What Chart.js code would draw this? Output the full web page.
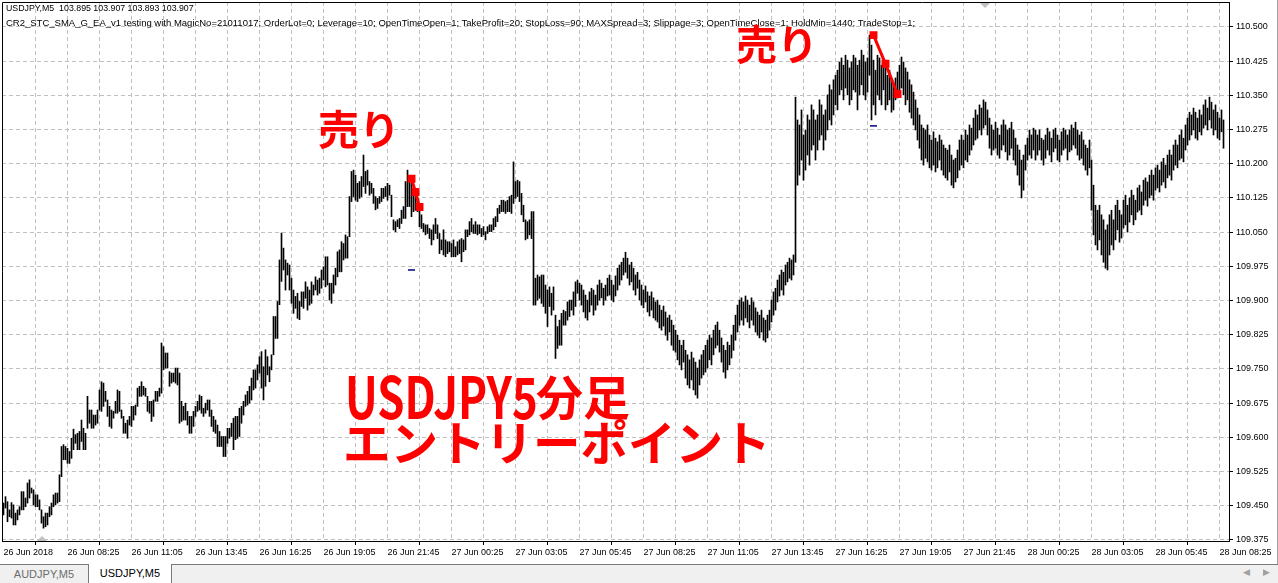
<!DOCTYPE html>
<html><head><meta charset="utf-8">
<script src="https://cdn.jsdelivr.net/npm/chart.js@4.4.1/dist/chart.umd.min.js"></script>
<style>
html,body{margin:0;padding:0;background:#fff;}
#wrap{position:relative;width:1278px;height:583px;overflow:hidden;font-family:"Liberation Sans",Arial,sans-serif;}
#c{position:absolute;left:0;top:0;}
.hdr{position:absolute;left:6px;line-height:11px;color:#000;white-space:pre;}
.red{position:absolute;color:#ff0000;font-family:"Noto Sans CJK JP",sans-serif;font-weight:bold;white-space:pre;line-height:1;}
#lat{transform:scale(0.95,1.25);transform-origin:0 43px;}
#tabs{position:absolute;left:0;top:564px;width:1278px;height:19px;background:#f0f0f0;border-top:1px solid #7a7a7a;}
.tab{position:absolute;top:-1px;height:19px;font-size:11px;line-height:18px;text-align:center;box-sizing:border-box;}
#t1{left:0;width:88px;color:#6d6d6d;border-top:1px solid #7a7a7a;}
#t2{left:88px;width:84px;background:#fff;color:#000;border-left:1px solid #7a7a7a;border-right:1px solid #7a7a7a;}
#rb{position:absolute;right:0;top:0;width:1px;height:564px;background:#a0a0a0;}
.arr{position:absolute;top:567px;font-size:9px;color:#a0a0a0;}
</style></head>
<body><div id="wrap">
<canvas id="c" width="1278" height="562"></canvas>
<div class="hdr" style="top:3px;font-size:8.8px">USDJPY,M5  103.895 103.907 103.893 103.907</div>
<div class="hdr" style="top:17px;font-size:9.5px">CR2_STC_SMA_G_EA_v1 testing with MagicNo=21011017; OrderLot=0; Leverage=10; OpenTimeOpen=1; TakeProfit=20; StopLoss=90; MAXSpread=3; Slippage=3; OpenTimeClose=1; HoldMin=1440; TradeStop=1;</div>
<div class="red" style="left:318px;top:107px;font-size:41px">売り</div>
<div class="red" style="left:736px;top:22px;font-size:41px">売り</div>
<div class="red" id="lat" style="left:345px;top:376px;font-size:46px">USDJPY5</div>
<div class="red" style="left:536px;top:371px;font-size:47px">分足</div>
<div class="red" style="left:343px;top:417px;font-size:47.5px">エントリーポイント</div>
<div id="rb"></div>
<div id="tabs"><div class="tab" id="t1">AUDJPY,M5</div><div class="tab" id="t2">USDJPY,M5</div></div>
<div class="arr" style="left:1243px">&#9664;</div><div class="arr" style="left:1263px">&#9654;</div>
</div>
<script>
const timeLabels = ["26 Jun 2018","26 Jun 08:25","26 Jun 11:05","26 Jun 13:45","26 Jun 16:25","26 Jun 19:05","26 Jun 21:45","27 Jun 00:25","27 Jun 03:05","27 Jun 05:45","27 Jun 08:25","27 Jun 11:05","27 Jun 13:45","27 Jun 16:25","27 Jun 19:05","27 Jun 21:45","28 Jun 00:25","28 Jun 03:05","28 Jun 05:45","28 Jun 08:25"];
const priceTicks = [109.375,109.450,109.525,109.600,109.675,109.750,109.825,109.900,109.975,110.050,110.125,110.200,110.275,110.350,110.425,110.500];
const barLow = [
109.430,109.445,109.415,109.426,109.423,109.408,109.408,109.419,109.430,109.441,
109.441,109.448,109.456,109.467,109.478,109.452,109.448,109.448,109.441,109.412,
109.401,109.404,109.408,109.426,109.430,109.448,109.452,109.456,109.459,109.514,
109.551,109.551,109.543,109.543,109.554,109.573,109.587,109.573,109.573,109.591,
109.573,109.573,109.620,109.631,109.620,109.620,109.627,109.631,109.660,109.657,
109.668,109.679,109.646,109.624,109.620,109.642,109.653,109.653,109.657,109.642,
109.609,109.609,109.598,109.627,109.624,109.638,109.649,109.668,109.690,109.690,
109.693,109.690,109.657,109.653,109.635,109.646,109.679,109.679,109.690,109.697,
109.748,109.752,109.752,109.712,109.719,109.722,109.719,109.715,109.631,109.635,
109.638,109.638,109.627,109.609,109.609,109.624,109.646,109.657,109.660,109.653,
109.646,109.653,109.660,109.646,109.624,109.613,109.609,109.580,109.580,109.580,
109.558,109.558,109.587,109.598,109.602,109.573,109.595,109.598,109.602,109.631,
109.649,109.668,109.671,109.675,109.682,109.704,109.708,109.726,109.741,109.708,
109.682,109.712,109.737,109.722,109.748,109.781,109.817,109.817,109.891,109.942,
109.967,109.923,109.956,109.923,109.894,109.872,109.883,109.861,109.858,
109.887,109.883,109.905,109.879,109.890,109.894,109.912,109.923,109.912,109.916,
109.927,109.945,109.930,109.934,109.901,109.894,109.916,109.934,109.952,109.963,
109.963,109.989,109.993,109.993,110.040,110.117,110.128,110.120,110.117,110.124,
110.128,110.150,110.135,110.153,110.131,110.135,110.113,110.099,110.102,110.113,
110.117,110.124,110.128,110.120,110.131,110.084,110.055,110.051,110.062,110.058,
110.069,110.080,110.080,110.106,110.106,110.084,110.095,110.098,110.095,110.062,
110.058,110.051,110.044,110.047,110.036,110.022,110.033,110.047,110.036,110.003,
110.011,110.000,109.996,110.003,110.007,109.996,109.996,109.996,110.000,110.003,
109.985,110.007,110.011,110.040,110.044,110.051,110.047,110.047,110.044,110.047,
110.040,110.044,110.033,110.047,110.051,110.051,110.055,110.062,110.073,110.091,
110.095,110.095,110.091,110.095,110.095,110.091,110.113,110.124,110.128,110.117,
110.088,110.073,110.033,110.036,110.044,110.036,109.890,109.890,109.901,109.905,
109.894,109.887,109.872,109.843,109.887,109.868,109.879,109.773,109.795,109.802,
109.802,109.846,109.846,109.857,109.865,109.879,109.868,109.887,109.916,
109.901,109.890,109.875,109.862,109.857,109.875,109.890,109.868,109.879,109.890,
109.901,109.906,109.890,109.901,109.910,109.912,109.901,109.897,109.910,109.923,
109.934,109.945,109.956,109.962,109.949,109.934,109.941,109.923,109.912,109.927,
109.901,109.890,109.884,109.897,109.875,109.866,109.879,109.862,109.857,109.853,
109.840,109.835,109.844,109.824,109.813,109.831,109.802,109.791,109.787,109.770,
109.759,109.748,109.765,109.730,109.715,109.708,109.726,109.704,109.693,109.686,
109.715,109.730,109.737,109.743,109.752,109.770,109.759,109.781,109.796,109.802,
109.787,109.765,109.743,109.730,109.748,109.759,109.774,109.791,109.813,109.831,
109.846,109.857,109.846,109.862,109.853,109.840,109.857,109.846,109.831,109.824,
109.818,109.831,109.813,109.809,109.818,109.835,109.853,109.868,109.879,109.897,
109.910,109.923,109.912,109.934,109.941,109.949,109.945,109.956,109.984,110.153,
110.175,110.208,110.164,110.186,110.219,110.197,110.230,110.241,110.208,110.230,
110.252,110.263,110.230,110.252,110.274,110.296,110.285,110.307,110.329,110.318,
110.351,110.362,110.340,110.366,110.351,110.329,110.340,110.362,110.357,110.318,
110.351,110.373,110.351,110.340,110.357,110.394,110.296,110.329,110.307,110.351,
110.340,110.329,110.362,110.318,110.329,110.340,110.313,110.318,110.340,110.344,
110.357,110.366,110.351,110.329,110.340,110.313,110.300,110.285,110.274,110.252,
110.234,110.208,110.197,110.212,110.204,110.191,110.186,110.197,110.182,110.191,
110.208,110.186,110.175,110.169,110.164,110.182,110.153,110.147,110.160,110.169,
110.186,110.197,110.191,110.208,110.204,110.219,110.230,110.241,110.252,110.256,
110.274,110.263,110.278,110.285,110.263,110.234,110.219,110.230,110.234,110.219,
110.212,110.230,110.241,110.226,110.208,110.219,110.234,110.208,110.197,110.175,
110.153,110.125,110.142,110.186,110.208,110.219,110.212,110.230,110.208,110.219,
110.230,110.208,110.197,110.212,110.230,110.219,110.204,110.226,110.234,110.208,
110.204,110.219,110.230,110.234,110.208,110.226,110.230,110.241,110.234,110.219,
110.208,110.212,110.197,110.186,110.175,110.191,110.098,110.044,110.022,110.011,
110.033,110.000,109.984,109.971,109.967,110.000,110.022,110.011,110.033,110.055,
110.028,110.037,110.059,110.066,110.050,110.072,110.088,110.066,110.077,110.094,
110.098,110.088,110.109,110.120,110.107,110.125,110.131,110.120,110.142,110.147,
110.138,110.153,110.160,110.147,110.169,110.175,110.164,110.186,110.197,110.191,
110.208,110.212,110.204,110.230,110.241,110.252,110.263,110.274,110.256,110.252,
110.270,110.263,110.278,110.285,110.274,110.296,110.278,110.263,110.274,110.256,
110.252,110.270,110.234
];
const barHigh = [
109.456,109.470,109.459,109.441,109.457,109.452,109.434,109.441,109.448,109.481,
109.481,109.467,109.500,109.507,109.489,109.485,109.474,109.474,109.463,109.441,
109.426,109.434,109.434,109.448,109.456,109.474,109.478,109.478,109.518,109.580,
109.584,109.580,109.576,109.569,109.598,109.618,109.606,109.609,109.613,109.638,
109.620,109.609,109.690,109.660,109.660,109.649,109.649,109.660,109.704,109.722,
109.719,109.701,109.682,109.668,109.660,109.657,109.679,109.704,109.701,109.660,
109.646,109.631,109.638,109.646,109.668,109.668,109.671,109.708,109.712,109.722,
109.712,109.708,109.690,109.679,109.679,109.682,109.701,109.701,109.708,109.807,
109.799,109.785,109.785,109.744,109.741,109.741,109.752,109.752,109.741,109.679,
109.668,109.675,109.657,109.646,109.646,109.657,109.668,109.679,109.693,109.690,
109.664,109.675,109.682,109.682,109.660,109.646,109.638,109.627,109.613,109.602,
109.602,109.602,109.620,109.620,109.631,109.642,109.646,109.646,109.664,109.668,
109.679,109.693,109.701,109.712,109.730,109.748,109.748,109.759,109.777,109.788,
109.755,109.792,109.777,109.755,109.781,109.865,109.865,109.898,109.989,110.048,
110.015,109.989,109.982,109.978,109.949,109.923,109.909,109.916,109.898,
109.919,109.919,109.941,109.930,109.923,109.941,109.934,109.952,109.945,109.949,
109.967,109.974,109.996,109.996,109.938,109.938,109.956,109.971,110.007,110.011,
110.029,110.025,110.044,110.040,110.128,110.183,110.186,110.175,110.157,110.161,
110.172,110.219,110.183,110.186,110.161,110.157,110.146,110.128,110.124,110.128,
110.146,110.146,110.150,110.157,110.153,110.131,110.077,110.073,110.077,110.080,
110.098,110.106,110.161,110.186,110.172,110.157,110.146,110.135,110.124,110.109,
110.088,110.069,110.066,110.066,110.058,110.055,110.066,110.080,110.066,110.047,
110.033,110.055,110.033,110.029,110.029,110.025,110.033,110.018,110.029,110.033,
110.036,110.033,110.055,110.055,110.073,110.080,110.066,110.073,110.066,110.066,
110.058,110.062,110.051,110.062,110.066,110.066,110.080,110.084,110.102,110.109,
110.120,110.120,110.117,110.120,110.128,110.131,110.204,110.161,110.164,110.161,
110.135,110.109,110.077,110.073,110.077,110.095,110.095,109.949,109.956,109.952,
109.956,109.956,109.934,109.923,109.930,109.916,109.930,109.868,109.843,109.857,
109.872,109.879,109.876,109.897,109.901,109.901,109.919,109.941,109.945,
109.938,109.934,109.923,109.912,109.901,109.919,109.927,109.923,109.912,109.934,
109.945,109.938,109.927,109.934,109.949,109.956,109.945,109.934,109.954,109.971,
109.978,109.984,109.993,110.006,109.993,109.978,109.984,109.971,109.956,109.962,
109.945,109.934,109.923,109.932,109.919,109.910,109.919,109.906,109.897,109.901,
109.890,109.879,109.888,109.875,109.862,109.868,109.857,109.846,109.835,109.824,
109.813,109.802,109.813,109.791,109.781,109.770,109.787,109.774,109.765,109.752,
109.770,109.781,109.791,109.802,109.813,109.824,109.818,109.835,109.846,109.853,
109.835,109.818,109.802,109.791,109.809,109.802,109.824,109.846,109.868,109.890,
109.901,109.906,109.897,109.910,109.901,109.890,109.906,109.897,109.884,109.875,
109.868,109.879,109.862,109.857,109.868,109.879,109.901,109.919,109.927,109.945,
109.956,109.967,109.962,109.978,109.984,109.993,109.989,110.000,110.346,110.296,
110.285,110.318,110.263,110.274,110.307,110.296,110.329,110.318,110.296,110.307,
110.340,110.329,110.307,110.318,110.351,110.373,110.362,110.384,110.394,110.405,
110.423,110.432,110.416,110.438,110.427,110.410,110.423,110.438,110.432,110.416,
110.427,110.449,110.438,110.423,110.432,110.482,110.460,110.427,110.405,110.438,
110.432,110.416,110.427,110.410,110.394,110.405,110.384,110.373,110.388,110.401,
110.416,110.434,110.423,110.410,110.401,110.384,110.373,110.357,110.340,110.322,
110.307,110.285,110.278,110.274,110.285,110.263,110.252,110.270,110.256,110.248,
110.263,110.252,110.241,110.234,110.230,110.241,110.219,110.208,110.212,110.230,
110.252,110.263,110.252,110.274,110.263,110.285,110.278,110.300,110.318,110.307,
110.329,110.322,110.340,110.335,110.318,110.300,110.285,110.274,110.291,110.278,
110.263,110.285,110.296,110.285,110.274,110.278,110.291,110.274,110.256,110.241,
110.230,110.208,110.219,110.241,110.256,110.274,110.263,110.278,110.274,110.263,
110.274,110.256,110.252,110.263,110.278,110.270,110.256,110.274,110.278,110.263,
110.252,110.270,110.278,110.274,110.263,110.274,110.285,110.278,110.291,110.274,
110.263,110.270,110.252,110.241,110.234,110.252,110.208,110.153,110.109,110.098,
110.109,110.088,110.077,110.055,110.066,110.088,110.098,110.077,110.109,110.120,
110.098,110.088,110.120,110.131,110.109,110.125,110.142,110.131,110.120,110.147,
110.153,110.138,110.164,110.169,110.160,110.175,110.186,110.175,110.191,110.197,
110.186,110.204,110.212,110.197,110.219,110.230,110.219,110.241,110.252,110.241,
110.263,110.274,110.256,110.285,110.300,110.313,110.307,110.322,110.313,110.300,
110.318,110.307,110.329,110.340,110.322,110.346,110.335,110.318,110.329,110.313,
110.300,110.318,110.296
];
const trade1Index = [204,206,208];
const trade1Price = [110.167,110.138,110.105];
const trade2Index = [435,441,447];
const trade2Price = [110.482,110.419,110.353];
const markIndex = [204,435];
const markPrice = [109.967,110.283];
const labelEvery = 32;
const gridEvery = 16;

const bars = barLow.map((lo,i)=>({x:i, y:[lo, barHigh[i]]}));
const t1 = trade1Index.map((x,i)=>({x, y:trade1Price[i]}));
const t2 = trade2Index.map((x,i)=>({x, y:trade2Price[i]}));
const marks = markIndex.map((x,i)=>({x, y:markPrice[i]}));

const framePlugin = {
  id:'frame',
  beforeDatasetsDraw(chart){
    const {ctx, chartArea:a, scales} = chart;
    const x = scales.x, y = scales.y;
    ctx.save();
    ctx.strokeStyle = '#c0c0c0'; ctx.lineWidth = 1; ctx.setLineDash([4,3]);
    ctx.beginPath();
    for (let v = 0; v <= x.max; v += gridEvery) {
      const px = Math.floor(x.getPixelForValue(v)) + 0.5;
      if (px <= a.left + 3 || px >= a.right - 1) continue;
      ctx.moveTo(px, a.top); ctx.lineTo(px, a.bottom);
    }
    priceTicks.forEach(v => {
      const py = Math.floor(y.getPixelForValue(v)) + 0.5;
      if (py >= a.bottom - 0.5 || py <= a.top) return;
      ctx.moveTo(a.left, py); ctx.lineTo(a.right, py);
    });
    ctx.stroke();
    ctx.restore();
  },
  afterDraw(chart){
    const {ctx, chartArea:a} = chart;
    ctx.save();
    ctx.strokeStyle = '#000'; ctx.lineWidth = 1;
    ctx.beginPath();
    ctx.moveTo(a.left + 0.5, a.bottom); ctx.lineTo(a.left + 0.5, a.top + 0.5); ctx.lineTo(a.right, a.top + 0.5);
    ctx.stroke();
    ctx.fillStyle = '#c0c0c0';
    ctx.beginPath();
    ctx.moveTo(a.left + 35, a.bottom); ctx.lineTo(a.left + 40, a.bottom - 5); ctx.lineTo(a.left + 45, a.bottom); ctx.closePath(); ctx.fill();
    ctx.beginPath();
    ctx.moveTo(a.left + 978, a.top + 1); ctx.lineTo(a.left + 983, a.top + 6); ctx.lineTo(a.left + 988, a.top + 1); ctx.closePath(); ctx.fill();
    ctx.restore();
  }
};

const axisFont = {family:'Liberation Sans', size:9};
new Chart(document.getElementById('c'), {
  type:'bar',
  data:{datasets:[
    {type:'line', data:t1, borderColor:'#ff0000', backgroundColor:'#ff0000', borderWidth:3, pointStyle:'rect', pointRadius:3.5, order:0, clip:false},
    {type:'line', data:t2, borderColor:'#ff0000', backgroundColor:'#ff0000', borderWidth:3, pointStyle:'rect', pointRadius:3.5, order:0, clip:false},
    {type:'scatter', data:marks, borderColor:'#000080', backgroundColor:'#000080', pointStyle:'line', pointRadius:3.5, borderWidth:1.5, showLine:false, order:1},
    {type:'bar', data:bars, backgroundColor:'#000', borderWidth:0, barThickness:1, grouped:false, order:5}
  ]},
  options:{
    animation:false, responsive:false, events:[],
    layout:{autoPadding:false, padding:{left:2, top:2, right:0, bottom:0}},
    plugins:{legend:{display:false}, tooltip:{enabled:false}, title:{display:false}},
    scales:{
      x:{type:'linear', min:-0.75, max:-0.75 + 613.5, offset:false,
        afterBuildTicks:s=>{ s.ticks = timeLabels.map((t,k)=>({value:k*labelEvery})); },
        afterFit:s=>{ s.height = 21; s.paddingLeft = 0; s.paddingRight = 0; },
        ticks:{autoSkip:false, maxRotation:0, minRotation:0, align:'start', padding:2, color:'#000', font:axisFont,
          callback:(v,i)=>timeLabels[i]},
        grid:{drawOnChartArea:false, drawTicks:true, tickLength:4, color:'#000'},
        border:{display:true, color:'#000', width:1}
      },
      y:{type:'linear', position:'right', min:109.3728, max:110.5546,
        afterBuildTicks:s=>{ s.ticks = priceTicks.map(v=>({value:v})); },
        afterFit:s=>{ s.width = 49; s.paddingTop = 0; s.paddingBottom = 0; },
        ticks:{padding:3, color:'#000', font:axisFont, callback:v=>Number(v).toFixed(3)},
        grid:{drawOnChartArea:false, drawTicks:true, tickLength:4, color:'#000'},
        border:{display:true, color:'#000', width:1}
      }
    }
  },
  plugins:[framePlugin]
});
</script>
</body></html>
